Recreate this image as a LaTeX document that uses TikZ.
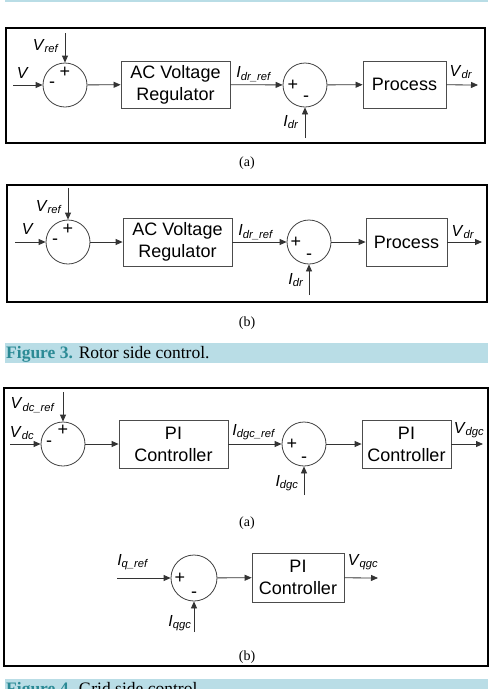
\documentclass[tikz,border=0pt]{standalone}
\usepackage{fontspec}
\setmainfont{Liberation Serif}
\setsansfont{Liberation Sans}
\usepackage{xcolor}
\usepackage{tikz}
\usetikzlibrary{arrows.meta,positioning}

\definecolor{capbar}{HTML}{B9DDE6}
\definecolor{capteal}{HTML}{2B8A95}

% signal name with italic subscript
\newcommand{\sg}[2]{\textit{#1}\textsubscript{\textit{#2}}}

\tikzset{
  sumnode/.style={circle, draw=black!75, line width=0.8pt, minimum size=44pt, inner sep=0pt},
  blockbox/.style={draw=black!70, line width=0.8pt, inner sep=0pt, align=center,
    font=\sffamily\fontsize{18}{22}\selectfont},
  sig/.style={draw=black!80, line width=0.8pt, -{Triangle[length=7pt,width=6pt]}},
  siglabel/.style={inner sep=0pt, font=\sffamily\fontsize{16}{18}\selectfont},
  sign/.style={inner sep=0pt, font=\sffamily\fontsize{18}{20}\selectfont},
  panel/.style={draw=black, line width=2pt},
  subcap/.style={inner sep=0pt, font=\fontsize{14}{16}\selectfont},
  figcap/.style={anchor=base west, inner sep=0pt, font=\fontsize{17.5}{20}\selectfont}
}

\begin{document}
\begin{tikzpicture}[x=1pt, y=-1pt]
  \useasboundingbox (0,0) rectangle (493,689);
  \clip (0,0) rectangle (493,689);

  % caption bar of the figure above
  \fill[capbar] (5,-6) rectangle (488,2);

  % ---------- Figure 3 (a) ----------
  \draw[panel] (6,28) rectangle (485,143);
  \node[sumnode] (sa1) at (65,85) {};
  \node[sign] (sa1p) at (65,72) {+};
  \node[sign] (sa1m) at (52,85) {-};
  \coordinate (va) at (13,85);
  \coordinate (vrefa) at (65,33);
  \node[siglabel] (lva) at (23,74) {\sg{V}{}};
  \node[siglabel] (lvrefa) at (46,46) {\sg{V}{ref}};
  \node[blockbox, minimum width=109pt, minimum height=47pt] (rega) at (175.5,84.5) {AC Voltage\\Regulator};
  \node[sumnode] (sa2) at (305,85) {};
  \node[sign] (sa2p) at (293,85) {+};
  \node[sign] (sa2m) at (306,99) {-};
  \coordinate (idra) at (305,138);
  \node[siglabel] (lidrrefa) at (254,74) {\sg{I}{dr\_ref}};
  \node[siglabel] (lidra) at (291,122) {\sg{I}{dr}};
  \node[blockbox, minimum width=83pt, minimum height=47pt] (proca) at (404.5,84.5) {Process};
  \coordinate (outa) at (478,85);
  \node[siglabel] (lvdra) at (461,72) {\sg{V}{dr}};
  \draw[sig] (va) -- (sa1);
  \draw[sig] (vrefa) -- (sa1);
  \draw[sig] (sa1) -- (rega);
  \draw[sig] (rega) -- (sa2);
  \draw[sig] (idra) -- (sa2);
  \draw[sig] (sa2) -- (proca);
  \draw[sig] (proca) -- (outa);
  \node[subcap] (capa) at (247,163) {(a)};

  % ---------- Figure 3 (b) ----------
  \draw[panel] (7,185) rectangle (487,302);
  \node[sumnode] (sb1) at (68,242) {};
  \node[sign] (sb1p) at (68,229) {+};
  \node[sign] (sb1m) at (55,242) {-};
  \coordinate (vb) at (15,242);
  \coordinate (vrefb) at (68,188);
  \node[siglabel] (lvb) at (28,230) {\sg{V}{}};
  \node[siglabel] (lvrefb) at (49,207) {\sg{V}{ref}};
  \node[blockbox, minimum width=109pt, minimum height=48pt] (regb) at (177.5,242) {AC Voltage\\Regulator};
  \node[sumnode] (sb2) at (309,242) {};
  \node[sign] (sb2p) at (296,242) {+};
  \node[sign] (sb2m) at (309,257) {-};
  \coordinate (idrb) at (309,295);
  \node[siglabel] (lidrrefb) at (256,232) {\sg{I}{dr\_ref}};
  \node[siglabel] (lidrb) at (296,280) {\sg{I}{dr}};
  \node[blockbox, minimum width=81pt, minimum height=48pt] (procb) at (406.5,242) {Process};
  \coordinate (outb) at (482,242);
  \node[siglabel] (lvdrb) at (463,232) {\sg{V}{dr}};
  \draw[sig] (vb) -- (sb1);
  \draw[sig] (vrefb) -- (sb1);
  \draw[sig] (sb1) -- (regb);
  \draw[sig] (regb) -- (sb2);
  \draw[sig] (idrb) -- (sb2);
  \draw[sig] (sb2) -- (procb);
  \draw[sig] (procb) -- (outb);
  \node[subcap] (capb) at (247,323) {(b)};

  % caption Figure 3
  \fill[capbar] (5,343) rectangle (488,363);
  \node[figcap] (fig3) at (6,358)
    {\textcolor{capteal}{\textbf{Figure 3.}} Rotor side control.};

  % ---------- Figure 4 (a) ----------
  \draw[panel] (4,388) rectangle (488,666);
  \node[sumnode] (sc1) at (63,444) {};
  \node[sign] (sc1p) at (63,430) {+};
  \node[sign] (sc1m) at (49,444) {-};
  \coordinate (vdc) at (10,444);
  \coordinate (vdcref) at (63,392);
  \node[siglabel] (lvdc) at (22,433) {\sg{V}{dc}};
  \node[siglabel] (lvdcref) at (33,405) {\sg{V}{dc\_ref}};
  \node[blockbox, minimum width=109pt, minimum height=48pt] (pi1) at (173.5,444) {PI\\Controller};
  \node[sumnode] (sc2) at (304,444) {};
  \node[sign] (sc2p) at (292,444) {+};
  \node[sign] (sc2m) at (304,460) {-};
  \coordinate (idgc) at (304,495);
  \node[siglabel] (lidgcref) at (254,432) {\sg{I}{dgc\_ref}};
  \node[siglabel] (lidgc) at (287,483) {\sg{I}{dgc}};
  \node[blockbox, minimum width=89pt, minimum height=48pt] (pi2) at (406.5,444) {PI\\Controller};
  \coordinate (outc) at (483,444);
  \node[siglabel] (lvdgc) at (469,430) {\sg{V}{dgc}};
  \draw[sig] (vdc) -- (sc1);
  \draw[sig] (vdcref) -- (sc1);
  \draw[sig] (sc1) -- (pi1);
  \draw[sig] (pi1) -- (sc2);
  \draw[sig] (idgc) -- (sc2);
  \draw[sig] (sc2) -- (pi2);
  \draw[sig] (pi2) -- (outc);
  \node[subcap] (capc) at (247,523) {(a)};

  % ---------- Figure 4 (b) ----------
  \node[sumnode, minimum size=46pt] (sd1) at (194,578) {};
  \node[sign] (sd1p) at (180,578) {+};
  \node[sign] (sd1m) at (194,595) {-};
  \coordinate (iqref) at (117,578);
  \coordinate (iqgc) at (194,632);
  \node[siglabel] (liqref) at (133,562) {\sg{I}{q\_ref}};
  \node[siglabel] (liqgc) at (180,623) {\sg{I}{qgc}};
  \node[blockbox, minimum width=92pt, minimum height=49pt] (pi3) at (298,577.5) {PI\\Controller};
  \coordinate (outd) at (378,578);
  \node[siglabel] (lvqgc) at (363,562) {\sg{V}{qgc}};
  \draw[sig] (iqref) -- (sd1);
  \draw[sig] (iqgc) -- (sd1);
  \draw[sig] (sd1) -- (pi3);
  \draw[sig] (pi3) -- (outd);
  \node[subcap] (capd) at (247,657) {(b)};

  % caption Figure 4 (cut at the page edge)
  \fill[capbar] (5,679) rectangle (488,700);
  \node[figcap] (fig4) at (6,694)
    {\textcolor{capteal}{\textbf{Figure 4.}} Grid side control.};
\end{tikzpicture}
\end{document}
